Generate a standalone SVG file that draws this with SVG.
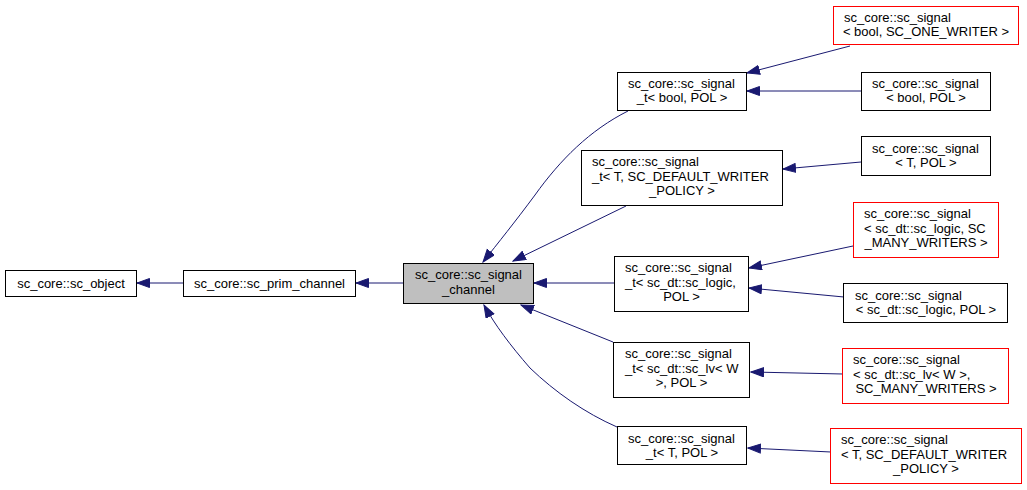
<svg xmlns="http://www.w3.org/2000/svg" width="1027" height="490" viewBox="0 0 1027 490">
<style>
text{font-family:"Liberation Sans",Arial,sans-serif;font-size:13px;fill:#000}
.m{text-anchor:middle}
.b{fill:#fff;stroke:#000;stroke-width:1}
.r{fill:#fff;stroke:#ff0000;stroke-width:1}
.g{fill:#bfbfbf;stroke:#000;stroke-width:1}
.e{fill:none;stroke:#191970;stroke-width:1;marker-end:url(#ah)}
</style>
<defs>
<marker id="ah" markerUnits="userSpaceOnUse" markerWidth="14" markerHeight="11" refX="13" refY="5" orient="auto">
<path d="M0.5,0.5 L13,5 L0.5,9.5 z" fill="#191970" stroke="#191970" stroke-width="1"/>
</marker>
</defs>
<rect width="1027" height="490" fill="#fff"/>
<g id="connectors">
<path class="e" d="M183,283 L137,283"/>
<path class="e" d="M403,283 L356,283"/>
<path class="e" d="M628,111 C590,130 560,160 535,195 C515,222 498,243 483,262"/>
<path class="e" d="M626,206 L513,261"/>
<path class="e" d="M614,283 L534,283"/>
<path class="e" d="M613,342 L521,305"/>
<path class="e" d="M617,427 C585,413 555,392 530,368 C510,345 495,325 484,305"/>
<path class="e" d="M850,46 L747,73"/>
<path class="e" d="M861,91 L747,91"/>
<path class="e" d="M861,162 L783,169"/>
<path class="e" d="M853,246 L749,268"/>
<path class="e" d="M844,297 L749,288"/>
<path class="e" d="M843,374 L751,372"/>
<path class="e" d="M831,452 L748,448"/>
</g>
<g id="n_sc_object"><rect class="b" x="5.5" y="270.5" width="131" height="26"/><text class="m" x="71" y="288">sc_core::sc_object</text></g>
<g id="n_sc_prim_channel"><rect class="b" x="183.5" y="270.5" width="172" height="26"/><text class="m" x="269.5" y="288">sc_core::sc_prim_channel</text></g>
<g id="n_sc_signal_channel"><rect class="g" x="403.5" y="263.5" width="130" height="40"/><text class="m" x="468.5" y="279">sc_core::sc_signal</text><text class="m" x="468.5" y="294">_channel</text></g>
<g id="n_signal_t_bool"><rect class="b" x="617.5" y="72.5" width="129" height="38"/><text x="628" y="88">sc_core::sc_signal</text><text class="m" x="682" y="102">_t&lt; bool, POL &gt;</text></g>
<g id="n_signal_t_default"><rect class="b" x="581.5" y="150.5" width="201" height="55"/><text x="592" y="166">sc_core::sc_signal</text><text x="592" y="180.5">_t&lt; T, SC_DEFAULT_WRITER</text><text class="m" x="682" y="195">_POLICY &gt;</text></g>
<g id="n_signal_t_logic"><rect class="b" x="614.5" y="256.5" width="134" height="55"/><text x="625" y="272">sc_core::sc_signal</text><text x="625" y="286.5">_t&lt; sc_dt::sc_logic,</text><text class="m" x="681.5" y="301">POL &gt;</text></g>
<g id="n_signal_t_lv"><rect class="b" x="613.5" y="342.5" width="136" height="55"/><text x="625" y="358">sc_core::sc_signal</text><text x="625" y="372.5">_t&lt; sc_dt::sc_lv&lt; W</text><text class="m" x="681.5" y="387">&gt;, POL &gt;</text></g>
<g id="n_signal_t_T"><rect class="b" x="617.5" y="426.5" width="129" height="38"/><text x="628" y="443">sc_core::sc_signal</text><text class="m" x="682" y="457">_t&lt; T, POL &gt;</text></g>
<g id="n_signal_bool_one"><rect class="r" x="833.5" y="6.5" width="185" height="38"/><text x="844" y="22">sc_core::sc_signal</text><text class="m" x="926" y="36">&lt; bool, SC_ONE_WRITER &gt;</text></g>
<g id="n_signal_bool_pol"><rect class="b" x="861.5" y="72.5" width="129" height="38"/><text x="872" y="88">sc_core::sc_signal</text><text class="m" x="926" y="102">&lt; bool, POL &gt;</text></g>
<g id="n_signal_T_pol"><rect class="b" x="861.5" y="136.5" width="129" height="39"/><text x="872" y="153">sc_core::sc_signal</text><text class="m" x="926" y="167">&lt; T, POL &gt;</text></g>
<g id="n_signal_logic_many"><rect class="r" x="853.5" y="202.5" width="145" height="55"/><text x="864" y="218">sc_core::sc_signal</text><text x="864" y="232.5">&lt; sc_dt::sc_logic, SC</text><text class="m" x="926" y="247">_MANY_WRITERS &gt;</text></g>
<g id="n_signal_logic_pol"><rect class="b" x="843.5" y="283.5" width="164" height="39"/><text x="855" y="300">sc_core::sc_signal</text><text class="m" x="926" y="314">&lt; sc_dt::sc_logic, POL &gt;</text></g>
<g id="n_signal_lv_many"><rect class="r" x="842.5" y="348.5" width="166" height="55"/><text x="853" y="364">sc_core::sc_signal</text><text x="853" y="378.5">&lt; sc_dt::sc_lv&lt; W &gt;,</text><text class="m" x="926" y="393"> SC_MANY_WRITERS &gt;</text></g>
<g id="n_signal_T_default"><rect class="r" x="830.5" y="428.5" width="191" height="55"/><text x="841" y="444">sc_core::sc_signal</text><text x="841" y="458.5">&lt; T, SC_DEFAULT_WRITER</text><text class="m" x="926" y="473">_POLICY &gt;</text></g>
</svg>
